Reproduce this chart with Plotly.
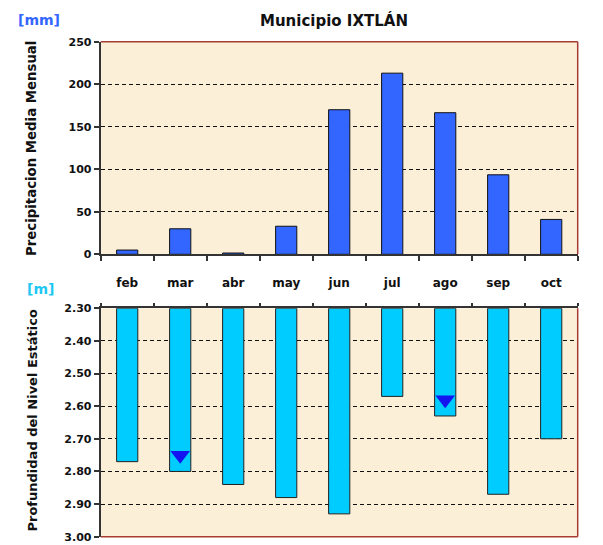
import plotly.graph_objects as go

# Monthly data, Municipio IXTLÁN
months = ["feb", "mar", "abr", "may", "jun", "jul", "ago", "sep", "oct"]
precip_mm = [5, 30, 1.5, 33, 170, 213, 166.5, 93.5, 41]
depth_m = [2.77, 2.80, 2.84, 2.88, 2.93, 2.57, 2.63, 2.87, 2.70]
level_months = ["mar", "ago"]
level_m = [2.75, 2.58]
precip_ticks = [0, 50, 100, 150, 200, 250]
depth_ticks = [2.30, 2.40, 2.50, 2.60, 2.70, 2.80, 2.90, 3.00]

W, H = 603, 545
FONT = "DejaVu Sans"
AXIS_COL = "#333333"
BORDER_COL = "#a83c32"
BG = "#fbefd8"


def fx(p):
    return p / W


def fy(p):
    return 1 - p / H


x_dom = [fx(100.7), fx(577.7)]
top_dom = [fy(254.3), fy(41.7)]
bot_dom = [fy(536.7), fy(308.3)]

depth_top = depth_ticks[0]
depth_bottom = depth_ticks[-1]

fig = go.Figure()

fig.add_trace(go.Bar(
    x=months, y=precip_mm, xaxis="x", yaxis="y", width=0.4,
    marker=dict(color="#3366ff", line=dict(color="#111111", width=1)),
    hoverinfo="skip", showlegend=False,
))

fig.add_trace(go.Bar(
    x=months, y=[d - depth_top for d in depth_m], base=depth_top,
    xaxis="x2", yaxis="y2", width=0.4,
    marker=dict(color="#00ccff", line=dict(color="#222222", width=1)),
    hoverinfo="skip", showlegend=False,
))

fig.add_trace(go.Scatter(
    x=level_months, y=level_m, xaxis="x2", yaxis="y2", mode="markers",
    marker=dict(symbol="triangle-down", size=17, color="#1414f0",
                line=dict(width=0)),
    hoverinfo="skip", showlegend=False,
))

tickfont = dict(family=FONT, size=11, color="#111111", weight="bold")
common_x = dict(
    type="category", categoryorder="array", categoryarray=months,
    range=[-0.5, len(months) - 0.5], domain=x_dom, automargin=False,
    showline=True, linecolor=AXIS_COL, linewidth=2,
    ticks="outside", tickson="boundaries", tickcolor=AXIS_COL,
    tickwidth=1.5, showgrid=False, zeroline=False,
)
common_y = dict(
    showline=True, linecolor=AXIS_COL, linewidth=2, automargin=False,
    ticks="outside", ticklen=5, tickcolor=AXIS_COL, tickwidth=1.5,
    showgrid=True, gridcolor="#111111", gridwidth=1, griddash="4px,3px",
    zeroline=False, tickfont=tickfont,
)

fig.update_layout(
    width=W, height=H,
    margin=dict(l=0, r=0, t=0, b=0),
    paper_bgcolor="white", plot_bgcolor=BG,
    hovermode=False,
    xaxis=dict(common_x, anchor="y", ticklen=5, showticklabels=False),
    yaxis=dict(common_y, domain=top_dom, anchor="x",
               range=[precip_ticks[0], precip_ticks[-1]],
               tickvals=precip_ticks),
    xaxis2=dict(common_x, anchor="y2", side="top", ticklen=3,
                showticklabels=True, ticklabelstandoff=15,
                tickfont=dict(family=FONT, size=12, color="#111111",
                              weight="bold")),
    yaxis2=dict(common_y, domain=bot_dom, anchor="x2",
                range=[depth_bottom, depth_top],
                tickvals=depth_ticks, tickformat=".2f"),
)

# Red frame on the outer sides of each panel
for xr, yr, sides in [("x domain", "y domain", ["top", "right"]),
                      ("x2 domain", "y2 domain", ["bottom", "right"])]:
    for s in sides:
        if s == "top":
            c = dict(x0=0, x1=1, y0=1, y1=1)
        elif s == "bottom":
            c = dict(x0=0, x1=1, y0=0, y1=0)
        else:
            c = dict(x0=1, x1=1, y0=0, y1=1)
        fig.add_shape(type="line", xref=xr, yref=yr,
                      line=dict(color=BORDER_COL, width=1.5), **c)

ann_font = dict(family=FONT, weight="bold")


def label(text, x, y, size, color, angle=0):
    fig.add_annotation(text=text, xref="paper", yref="paper",
                       x=fx(x), y=fy(y), xanchor="center", yanchor="middle",
                       textangle=angle, showarrow=False,
                       font=dict(ann_font, size=size, color=color))


label("Municipio IXTLÁN", 333.5, 20, 15, "#111111")
label("[mm]", 39.5, 20.5, 14, "#3366ff")
label("[m]", 40.5, 289, 14, "#1ec8f5")
label("Precipitacion Media Mensual", 32, 149, 13.3, "#111111", -90)
label("Profundidad del Nivel Estático", 32, 420.5, 13, "#111111", -90)

fig.write_html("out.html")
